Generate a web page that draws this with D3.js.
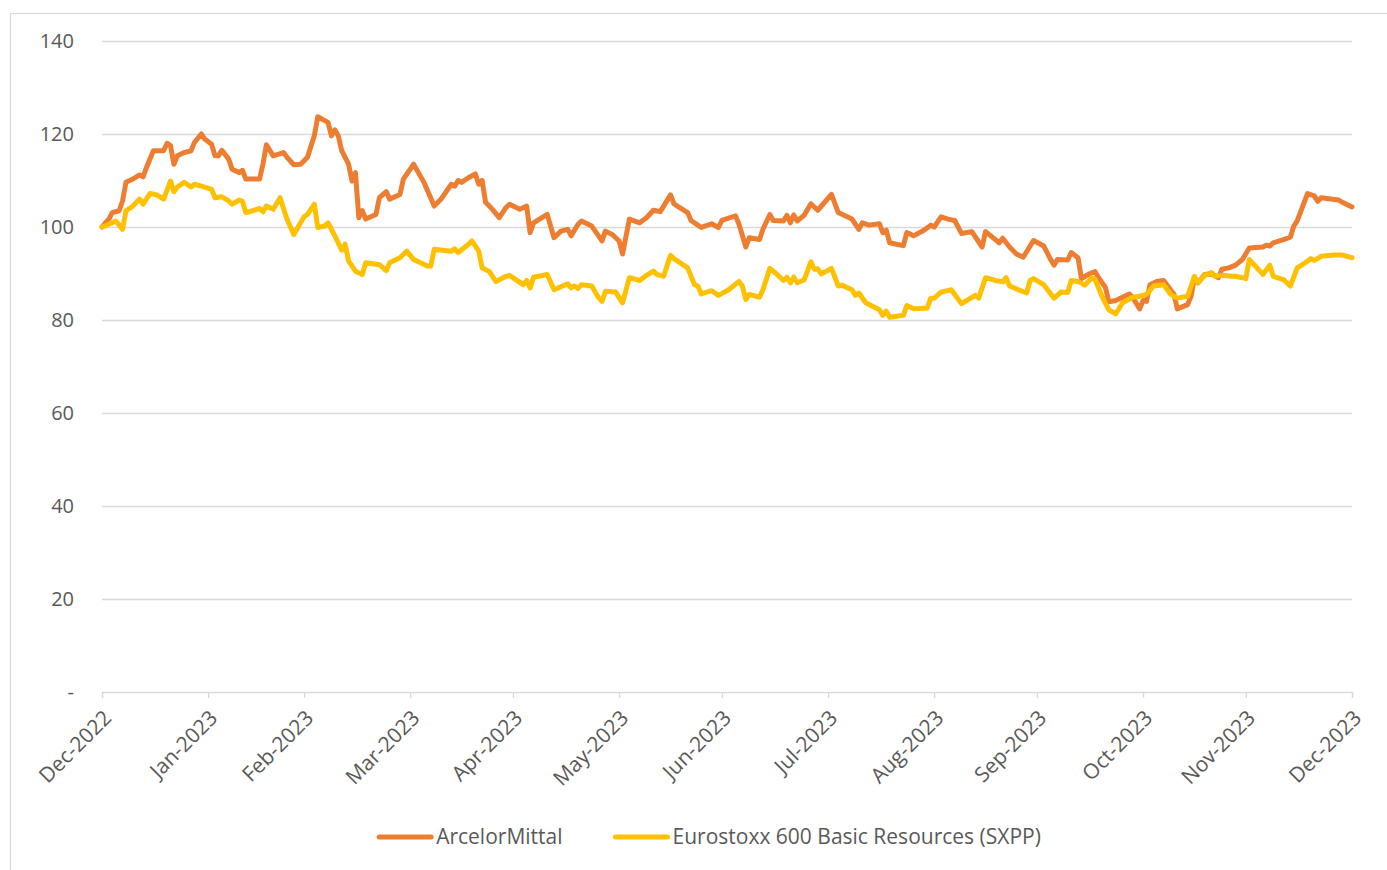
<!DOCTYPE html>
<html><head><meta charset="utf-8">
<script src="https://cdn.jsdelivr.net/npm/d3@7"></script>
<style>body{margin:0;background:#fff;} svg{display:block;font-family:"Open Sans",sans-serif;}</style>
</head><body><svg id="chart" width="1387" height="870"></svg>
<script>
// ---------- data ----------
const seriesNames = ["ArcelorMittal", "Eurostoxx 600 Basic Resources (SXPP)"];
const seriesColors = ["#ED7D31", "#FFC000"];

const amDates = ["2022-12-31","2023-01-02","2023-01-03","2023-01-05","2023-01-06","2023-01-07","2023-01-09","2023-01-11","2023-01-12","2023-01-13","2023-01-15","2023-01-18","2023-01-19","2023-01-20","2023-01-21","2023-01-22","2023-01-24","2023-01-26","2023-01-27","2023-01-29","2023-01-30",
"2023-02-01","2023-02-02","2023-02-03","2023-02-04","2023-02-06","2023-02-07","2023-02-09","2023-02-10","2023-02-11","2023-02-15","2023-02-16","2023-02-17","2023-02-19","2023-02-22","2023-02-23","2023-02-25","2023-02-27",
"2023-03-01","2023-03-03","2023-03-04","2023-03-07","2023-03-08","2023-03-09","2023-03-10","2023-03-11","2023-03-13","2023-03-14","2023-03-15","2023-03-16","2023-03-17","2023-03-18","2023-03-21","2023-03-22","2023-03-24","2023-03-25","2023-03-28","2023-03-29",
"2023-04-01","2023-04-04","2023-04-07","2023-04-09","2023-04-12","2023-04-13","2023-04-14","2023-04-15","2023-04-17","2023-04-19","2023-04-20","2023-04-21","2023-04-22","2023-04-24","2023-04-26","2023-04-28","2023-04-29",
"2023-05-02","2023-05-04","2023-05-05","2023-05-06","2023-05-10","2023-05-12","2023-05-14","2023-05-16","2023-05-17","2023-05-19","2023-05-20","2023-05-23","2023-05-25","2023-05-26","2023-05-27","2023-05-29","2023-05-31",
"2023-06-01","2023-06-03","2023-06-06","2023-06-08","2023-06-10","2023-06-12","2023-06-13","2023-06-15","2023-06-16","2023-06-17","2023-06-20","2023-06-21","2023-06-22","2023-06-24","2023-06-27","2023-06-29","2023-06-30",
"2023-07-04","2023-07-05","2023-07-07","2023-07-08","2023-07-11","2023-07-12","2023-07-14","2023-07-15","2023-07-18","2023-07-19","2023-07-20","2023-07-21","2023-07-22","2023-07-24","2023-07-26","2023-07-28",
"2023-08-01","2023-08-03","2023-08-07","2023-08-09","2023-08-10","2023-08-12","2023-08-15","2023-08-16","2023-08-17","2023-08-18","2023-08-20","2023-08-22","2023-08-23","2023-08-25","2023-08-28","2023-08-30","2023-08-31",
"2023-09-02","2023-09-04","2023-09-06","2023-09-08","2023-09-11","2023-09-14","2023-09-15","2023-09-19","2023-09-20","2023-09-22","2023-09-24","2023-09-26","2023-09-29",
"2023-10-02","2023-10-04","2023-10-05","2023-10-06","2023-10-09","2023-10-10","2023-10-12","2023-10-13","2023-10-15","2023-10-17","2023-10-18","2023-10-20","2023-10-21","2023-10-23","2023-10-27","2023-10-28","2023-10-30","2023-10-31",
"2023-11-01","2023-11-02","2023-11-04","2023-11-06","2023-11-08","2023-11-09","2023-11-10","2023-11-13","2023-11-14","2023-11-15","2023-11-16","2023-11-18","2023-11-20","2023-11-22","2023-11-23","2023-11-25","2023-11-27","2023-11-29",
"2023-12-01","2023-12-05","2023-12-06","2023-12-07","2023-12-08","2023-12-11","2023-12-13","2023-12-14","2023-12-15","2023-12-18","2023-12-20","2023-12-21","2023-12-22","2023-12-27","2023-12-28","2023-12-31"];
const amValues = [100.0,101.7,103.1,103.5,105.6,109.6,110.3,111.2,110.8,112.8,116.4,116.4,118.0,117.5,113.5,115.3,116.0,116.4,118.2,120.0,118.9,
117.8,115.3,115.3,116.5,114.6,112.4,111.7,112.2,110.3,110.3,113.5,117.7,115.3,116.0,115.0,113.4,113.5,
115.0,119.6,123.7,122.5,119.6,120.9,119.6,116.4,113.5,109.9,111.7,102.0,103.5,101.7,102.7,106.3,107.6,106.0,107.0,110.3,
113.5,109.6,104.5,106.0,109.2,108.8,110.0,109.6,110.6,111.4,109.2,110.0,105.3,103.8,102.0,104.2,104.9,
103.8,104.5,98.8,100.9,102.7,97.7,99.1,99.5,98.1,100.6,101.3,100.2,98.1,97.0,99.1,98.4,97.0,
94.2,101.7,100.9,102.0,103.6,103.3,104.5,106.9,105.0,104.5,103.1,101.4,100.9,99.9,100.7,99.9,101.4,
102.4,100.6,95.7,97.7,97.3,99.5,102.7,101.4,101.3,102.5,100.9,102.6,101.3,102.5,105.0,103.6,
107.0,103.1,101.7,99.5,100.9,100.4,100.7,98.8,99.3,96.6,96.3,96.0,98.8,98.1,99.3,100.4,100.0,
102.2,101.7,101.4,98.6,99.0,95.7,99.0,96.6,97.6,95.7,94.2,93.5,97.1,
95.9,93.0,91.8,93.0,92.9,94.5,93.4,88.9,89.8,90.4,89.1,87.0,83.9,84.2,85.6,84.8,82.4,84.2,
84.0,87.6,88.3,88.5,86.5,85.6,82.4,83.3,85.1,89.1,88.0,89.8,89.9,89.1,90.9,91.2,91.8,93.0,
95.5,95.7,96.1,95.9,96.6,97.3,97.8,100.2,101.3,107.2,106.7,105.5,106.3,105.8,105.4,104.3];

const sxppDates = ["2022-12-31","2023-01-02","2023-01-04","2023-01-06","2023-01-07","2023-01-09","2023-01-11","2023-01-12","2023-01-14","2023-01-16","2023-01-18","2023-01-20","2023-01-21","2023-01-22","2023-01-24","2023-01-26","2023-01-27","2023-01-29",
"2023-02-01","2023-02-02","2023-02-04","2023-02-06","2023-02-07","2023-02-09","2023-02-10","2023-02-11","2023-02-13","2023-02-15","2023-02-16","2023-02-17","2023-02-19","2023-02-21","2023-02-23","2023-02-25","2023-02-28",
"2023-03-01","2023-03-03","2023-03-04","2023-03-06","2023-03-07","2023-03-09","2023-03-11","2023-03-12","2023-03-13","2023-03-15","2023-03-17","2023-03-18","2023-03-22","2023-03-24","2023-03-25","2023-03-28","2023-03-30",
"2023-04-01","2023-04-05","2023-04-06","2023-04-07","2023-04-12","2023-04-13","2023-04-14","2023-04-17","2023-04-18","2023-04-20","2023-04-21","2023-04-23","2023-04-25","2023-04-28","2023-04-29",
"2023-05-03","2023-05-04","2023-05-05","2023-05-06","2023-05-10","2023-05-12","2023-05-16","2023-05-17","2023-05-18","2023-05-19","2023-05-20","2023-05-23","2023-05-25","2023-05-26","2023-05-27","2023-05-30",
"2023-06-01","2023-06-03","2023-06-06","2023-06-08","2023-06-10","2023-06-11","2023-06-13","2023-06-15","2023-06-16","2023-06-20","2023-06-22","2023-06-23","2023-06-24","2023-06-27","2023-06-29",
"2023-07-02","2023-07-05","2023-07-06","2023-07-07","2023-07-08","2023-07-11","2023-07-12","2023-07-14","2023-07-16","2023-07-18","2023-07-19","2023-07-20","2023-07-21","2023-07-22","2023-07-24","2023-07-26","2023-07-27","2023-07-28","2023-07-29",
"2023-08-01","2023-08-03","2023-08-04","2023-08-07","2023-08-08","2023-08-09","2023-08-11","2023-08-15","2023-08-16","2023-08-17","2023-08-18","2023-08-22","2023-08-23","2023-08-25","2023-08-29","2023-08-30","2023-08-31",
"2023-09-02","2023-09-05","2023-09-06","2023-09-08","2023-09-12","2023-09-13","2023-09-15","2023-09-18","2023-09-20","2023-09-21","2023-09-22","2023-09-27","2023-09-28","2023-09-29",
"2023-10-02","2023-10-05","2023-10-07","2023-10-09","2023-10-10","2023-10-12","2023-10-14","2023-10-16","2023-10-17","2023-10-19","2023-10-21","2023-10-23","2023-10-25","2023-10-28","2023-10-30",
"2023-11-01","2023-11-03","2023-11-06","2023-11-08","2023-11-09","2023-11-10","2023-11-13","2023-11-15","2023-11-16","2023-11-18","2023-11-20","2023-11-21","2023-11-23","2023-11-26","2023-11-27","2023-11-29","2023-11-30",
"2023-12-01","2023-12-05","2023-12-07","2023-12-08","2023-12-11","2023-12-13","2023-12-15","2023-12-17","2023-12-19","2023-12-20","2023-12-22","2023-12-26","2023-12-28","2023-12-31"];
const sxppValues = [100.0,100.6,101.3,99.5,103.5,104.5,106.0,104.9,107.2,106.9,106.0,109.9,107.6,108.6,109.6,108.6,109.2,108.8,
108.1,106.3,106.5,105.6,104.9,105.8,105.5,103.1,103.5,104.0,103.3,104.5,103.8,106.3,101.7,98.4,102.2,
102.7,104.9,99.9,100.2,100.9,98.1,95.0,96.3,92.7,90.5,89.8,92.3,91.9,90.6,92.3,93.4,94.8,
93.0,91.6,91.6,95.2,94.8,95.3,94.5,96.3,97.0,94.8,91.2,90.5,88.3,89.4,89.6,
87.6,88.5,86.9,89.2,89.8,86.5,87.8,86.9,87.3,86.8,87.6,87.3,84.8,84.0,86.2,86.0,
83.7,89.1,88.5,89.6,90.5,89.8,89.4,93.9,93.2,91.2,87.6,87.3,85.6,86.3,85.3,
86.5,88.3,87.3,84.4,85.5,84.9,86.5,91.1,89.9,88.5,89.2,88.0,89.2,88.0,88.6,92.5,90.9,91.0,89.9,
91.1,87.3,87.5,86.5,85.3,85.8,83.7,82.2,81.0,81.9,80.6,81.0,83.1,82.4,82.6,84.7,84.7,
86.0,86.5,85.5,83.5,85.3,84.7,89.1,88.5,88.2,89.1,87.3,85.8,88.5,88.9,
87.6,84.7,86.0,85.9,88.5,88.3,87.5,89.1,88.7,85.1,82.2,81.3,83.7,84.9,85.1,
85.5,87.3,87.6,85.6,85.1,84.7,85.1,89.4,88.0,89.6,90.2,89.4,89.6,89.4,89.4,89.1,88.9,
93.0,89.8,91.8,89.4,88.7,87.3,91.2,92.1,93.2,92.8,93.7,94.0,94.0,93.4];

const xDomain = ["2022-12-31", "2023-12-31"];
const tickDates = ["2022-12-31","2023-01-31","2023-02-28","2023-03-31","2023-04-30","2023-05-31","2023-06-30","2023-07-31","2023-08-31","2023-09-30","2023-10-31","2023-11-30","2023-12-31"];
const yTicks = [0, 20, 40, 60, 80, 100, 120, 140];

// ---------- drawing ----------
const parse = d3.utcParse("%Y-%m-%d");
const fmt = d3.utcFormat("%b-%Y");
const svg = d3.select("#chart");
const W = 1387, H = 870;
const m = {left: 102, right: 1352, top: 41, bottom: 692};
const gridColor = "#d9d9d9", textColor = "#595959";

svg.append("rect").attr("x", 10.5).attr("y", 13.5).attr("width", W + 20).attr("height", H + 20)
  .attr("fill", "#fff").attr("stroke", gridColor).attr("stroke-width", 1.2);

const x = d3.scaleUtc().domain(xDomain.map(parse)).range([m.left, m.right]);
const y = d3.scaleLinear().domain([0, 140]).range([m.bottom, m.top]);

// gridlines
const grid = svg.append("g").attr("transform", `translate(${m.left},0)`)
  .call(d3.axisLeft(y).tickValues(yTicks.filter(d => d > 0)).tickSize(-(m.right - m.left)).tickFormat(""));
grid.select(".domain").remove();
grid.selectAll("line").attr("stroke", gridColor).attr("stroke-width", 1.3);

// y labels
const yAxis = svg.append("g").attr("transform", `translate(${m.left},0)`)
  .call(d3.axisLeft(y).tickValues(yTicks).tickSize(0).tickPadding(28).tickFormat(d => d === 0 ? "-" : d));
yAxis.select(".domain").remove();
yAxis.selectAll("text").attr("fill", textColor).style("font-size", "20px").style("font-family", '"Open Sans", sans-serif');

// x axis
const xAxis = svg.append("g").attr("transform", `translate(0,${m.bottom})`)
  .call(d3.axisBottom(x).tickValues(tickDates.map(parse)).tickSize(6).tickFormat(fmt));
xAxis.select(".domain").attr("stroke", gridColor).attr("stroke-width", 1.3);
xAxis.selectAll(".tick line").attr("stroke", gridColor).attr("stroke-width", 1.3);
xAxis.selectAll(".tick text")
  .attr("fill", textColor).style("font-size", "21px").style("font-family", '"Open Sans", sans-serif')
  .attr("text-anchor", "end").attr("x", 0).attr("y", 0).attr("dy", "0.35em")
  .attr("transform", "translate(5,22) rotate(-45)");

// lines
const line = d3.line().x(d => x(d.date)).y(d => y(d.value)).curve(d3.curveLinear);
const series = [
  {name: seriesNames[0], color: seriesColors[0], data: amDates.map((d, i) => ({date: parse(d), value: amValues[i]}))},
  {name: seriesNames[1], color: seriesColors[1], data: sxppDates.map((d, i) => ({date: parse(d), value: sxppValues[i]}))}
];
svg.append("g").selectAll("path").data(series).join("path")
  .attr("d", d => line(d.data)).attr("fill", "none")
  .attr("stroke", d => d.color).attr("stroke-width", 5)
  .attr("stroke-linejoin", "round").attr("stroke-linecap", "round");

// legend
const legend = svg.append("g");
const ly = 837;
let cx = 0;
const items = legend.selectAll("g").data(series).join("g");
items.append("line").attr("x1", 0).attr("x2", 52).attr("y1", ly).attr("y2", ly)
  .attr("stroke", d => d.color).attr("stroke-width", 5).attr("stroke-linecap", "round");
items.append("text").attr("x", 57).attr("y", ly).attr("dy", "0.35em")
  .attr("fill", textColor).style("font-size", "21px").text(d => d.name);
items.each(function() {
  const w = 57 + this.querySelector("text").getComputedTextLength();
  d3.select(this).attr("transform", `translate(${cx},0)`);
  cx += w + 53;
});
const totalW = cx - 53;
legend.attr("transform", `translate(${710 - totalW / 2},0)`);
</script></body></html>
